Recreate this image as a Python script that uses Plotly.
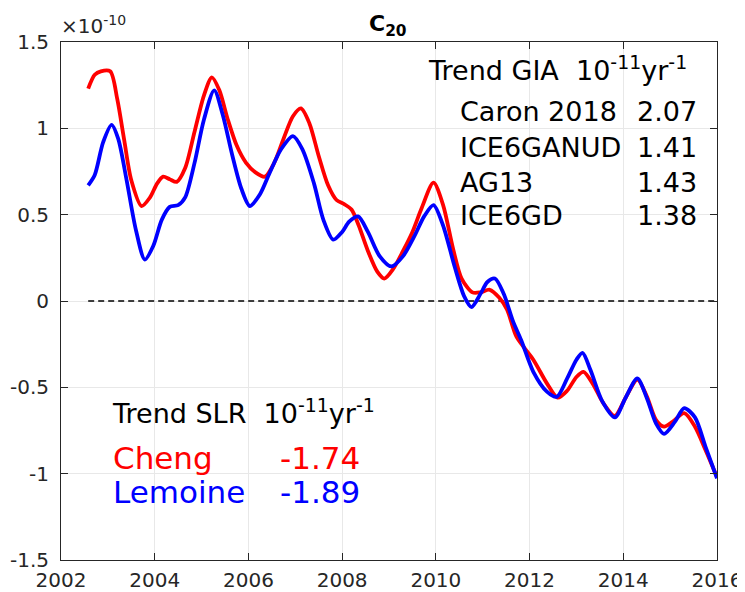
import plotly.graph_objects as go

# ---------------- data (values in units of 1e-10) ----------------
cheng_year = [2002.58, 2002.72, 2002.85, 2003.05, 2003.2, 2003.35, 2003.5, 2003.72, 2003.9,
              2004.05, 2004.18, 2004.32, 2004.47, 2004.65, 2004.85, 2005.05, 2005.22, 2005.38,
              2005.55, 2005.75, 2005.95, 2006.15, 2006.35, 2006.55, 2006.75, 2006.95, 2007.12,
              2007.3, 2007.5, 2007.7, 2007.88, 2008.05, 2008.2, 2008.35, 2008.55, 2008.75,
              2008.9, 2009.1, 2009.3, 2009.5, 2009.7, 2009.95, 2010.15, 2010.37, 2010.55,
              2010.78, 2010.95, 2011.15, 2011.35, 2011.52, 2011.72, 2012.08, 2012.37, 2012.6,
              2012.8, 2013.0, 2013.15, 2013.35, 2013.57, 2013.82, 2014.05, 2014.3, 2014.5,
              2014.7, 2014.87, 2015.05, 2015.3, 2015.53, 2015.75, 2016.0]
cheng_c20 = [1.23, 1.31, 1.33, 1.33, 1.17, 0.93, 0.70, 0.55, 0.60,
             0.68, 0.72, 0.705, 0.69, 0.77, 0.98, 1.19, 1.295, 1.22,
             1.06, 0.90, 0.80, 0.745, 0.72, 0.80, 0.94, 1.07, 1.115,
             1.03, 0.84, 0.67, 0.585, 0.56, 0.53, 0.44, 0.29, 0.17,
             0.13, 0.19, 0.29, 0.40, 0.54, 0.685, 0.56, 0.30, 0.13,
             0.05, 0.05, 0.065, 0.02, -0.05, -0.207, -0.34, -0.477, -0.56,
             -0.52, -0.44, -0.41, -0.48, -0.59, -0.665, -0.56, -0.455, -0.55,
             -0.69, -0.728, -0.70, -0.65, -0.728, -0.86, -1.02]

lemoine_year = [2002.58, 2002.72, 2002.9, 2003.08, 2003.22, 2003.4, 2003.6, 2003.79, 2003.97,
                2004.15, 2004.32, 2004.5, 2004.65, 2004.85, 2005.05, 2005.27, 2005.45, 2005.65,
                2005.85, 2006.03, 2006.25, 2006.45, 2006.7, 2006.95, 2007.15, 2007.4, 2007.6,
                2007.81, 2008.0, 2008.15, 2008.34, 2008.55, 2008.8, 2009.05, 2009.3, 2009.55,
                2009.75, 2009.95, 2010.15, 2010.4, 2010.6, 2010.76, 2010.95, 2011.1, 2011.26,
                2011.45, 2011.65, 2011.82, 2012.08, 2012.37, 2012.58, 2012.8, 2013.0, 2013.13,
                2013.3, 2013.55, 2013.82, 2014.05, 2014.3, 2014.5, 2014.7, 2014.87, 2015.1,
                2015.3, 2015.53, 2015.75, 2016.0]
lemoine_c20 = [0.67, 0.73, 0.92, 1.02, 0.94, 0.70, 0.41, 0.24, 0.32,
               0.47, 0.545, 0.555, 0.60, 0.80, 1.05, 1.22, 1.08, 0.85,
               0.65, 0.55, 0.62, 0.74, 0.88, 0.955, 0.88, 0.68, 0.47,
               0.355, 0.40, 0.46, 0.49, 0.40, 0.26, 0.20, 0.26, 0.38,
               0.49, 0.555, 0.44, 0.20, 0.03, -0.035, 0.04, 0.11, 0.13,
               0.04, -0.12, -0.226, -0.41, -0.525, -0.555, -0.45, -0.34, -0.30,
               -0.40, -0.58, -0.674, -0.56, -0.448, -0.56, -0.71, -0.77, -0.70,
               -0.62, -0.674, -0.84, -1.027]

zero_x = [2002.58, 2016.0]
zero_y = [0.0, 0.0]

x_ticks = [2002, 2004, 2006, 2008, 2010, 2012, 2014, 2016]
x_ticklabels = ["2002", "2004", "2006", "2008", "2010", "2012", "2014", "2016"]
y_ticks = [-1.5, -1.0, -0.5, 0.0, 0.5, 1.0, 1.5]
y_ticklabels = ["-1.5", "-1", "-0.5", "0", "0.5", "1", "1.5"]

gia_models = ["Caron 2018", "ICE6GANUD", "AG13", "ICE6GD"]
gia_trends = ["2.07", "1.41", "1.43", "1.38"]
slr_names = ["Cheng", "Lemoine"]
slr_trends = ["-1.74", "-1.89"]
slr_colors = ["#ff0000", "#0000ff"]

# ---------------- figure ----------------
# page has an 8px body margin; figure sized so plot box lands at x 61..717, y 42..560
OFF = 8
W, H = 745 - OFF, 592 - OFF
L, R, T, B = 61 - OFF, 28, 42 - OFF, 32
pw, ph = W - L - R, H - T - B
FONT = "DejaVu Sans"
AX = "#262626"

PLOT_LEFT = L + OFF
PLOT_BOTTOM = OFF + H - B


def px(xp):
    return (xp - PLOT_LEFT) / pw


def py(yp):
    return (PLOT_BOTTOM - yp) / ph


fig = go.Figure()
fig.add_trace(go.Scatter(x=zero_x, y=zero_y, mode="lines",
                         line=dict(color="black", width=1.3, dash="6px,4px"),
                         hoverinfo="skip", showlegend=False))
fig.add_trace(go.Scatter(x=cheng_year, y=cheng_c20, mode="lines", name="Cheng",
                         line=dict(color="#ff0000", width=3.8, shape="spline", smoothing=0.8),
                         showlegend=False))
fig.add_trace(go.Scatter(x=lemoine_year, y=lemoine_c20, mode="lines", name="Lemoine",
                         line=dict(color="#0000ff", width=3.8, shape="spline", smoothing=0.8),
                         showlegend=False))

axis_common = dict(showline=True, linecolor=AX, linewidth=1, mirror="allticks",
                   ticks="inside", ticklen=7, tickcolor=AX, showgrid=True,
                   gridcolor="#e8e8e8", gridwidth=1, zeroline=False, automargin=False,
                   tickfont=dict(family=FONT, size=20, color=AX))

fig.update_xaxes(range=[2002, 2016], tickvals=x_ticks, ticktext=x_ticklabels,
                 ticklabelstandoff=2, **axis_common)
fig.update_yaxes(range=[-1.5, 1.5], tickvals=y_ticks, ticktext=y_ticklabels,
                 ticklabelstandoff=7, **axis_common)

ann = []
# title
ann.append(dict(text="<b>C<sub>20</sub></b>", xref="paper", yref="paper", x=px(388), y=py(9),
                xanchor="center", yanchor="top", showarrow=False,
                font=dict(family=FONT, size=22, color="black")))
# exponent
ann.append(dict(text="×10<sup>-10</sup>", xref="paper", yref="paper", x=px(59), y=py(25),
                xanchor="left", yanchor="middle", showarrow=False,
                font=dict(family=FONT, size=20, color=AX)))
# GIA table
ann.append(dict(text="Trend GIA  10<sup>-11</sup>yr<sup>-1</sup>", xref="paper", yref="paper",
                x=px(426), y=py(68), xanchor="left", yanchor="middle", showarrow=False,
                font=dict(family=FONT, size=27, color="black")))
gia_rows = [112, 147, 182, 215]
for name, val, yp in zip(gia_models, gia_trends, gia_rows):
    ann.append(dict(text=name, xref="paper", yref="paper", x=px(458), y=py(yp),
                    xanchor="left", yanchor="middle", showarrow=False,
                    font=dict(family=FONT, size=27, color="black")))
    ann.append(dict(text=val, xref="paper", yref="paper", x=px(699), y=py(yp),
                    xanchor="right", yanchor="middle", showarrow=False,
                    font=dict(family=FONT, size=27, color="black")))
# SLR table
ann.append(dict(text="Trend SLR  10<sup>-11</sup>yr<sup>-1</sup>", xref="paper", yref="paper",
                x=px(110), y=py(411), xanchor="left", yanchor="middle", showarrow=False,
                font=dict(family=FONT, size=27, color="black")))
slr_rows = [458, 492]
for name, val, col, yp in zip(slr_names, slr_trends, slr_colors, slr_rows):
    ann.append(dict(text=name, xref="paper", yref="paper", x=px(111), y=py(yp),
                    xanchor="left", yanchor="middle", showarrow=False,
                    font=dict(family=FONT, size=31, color=col)))
    ann.append(dict(text=val, xref="paper", yref="paper", x=px(278), y=py(yp),
                    xanchor="left", yanchor="middle", showarrow=False,
                    font=dict(family=FONT, size=31, color=col)))

fig.update_layout(width=W, height=H, margin=dict(l=L, r=R, t=T, b=B, pad=0),
                  paper_bgcolor="white", plot_bgcolor="white", annotations=ann,
                  showlegend=False)

fig.write_html("out.html")
